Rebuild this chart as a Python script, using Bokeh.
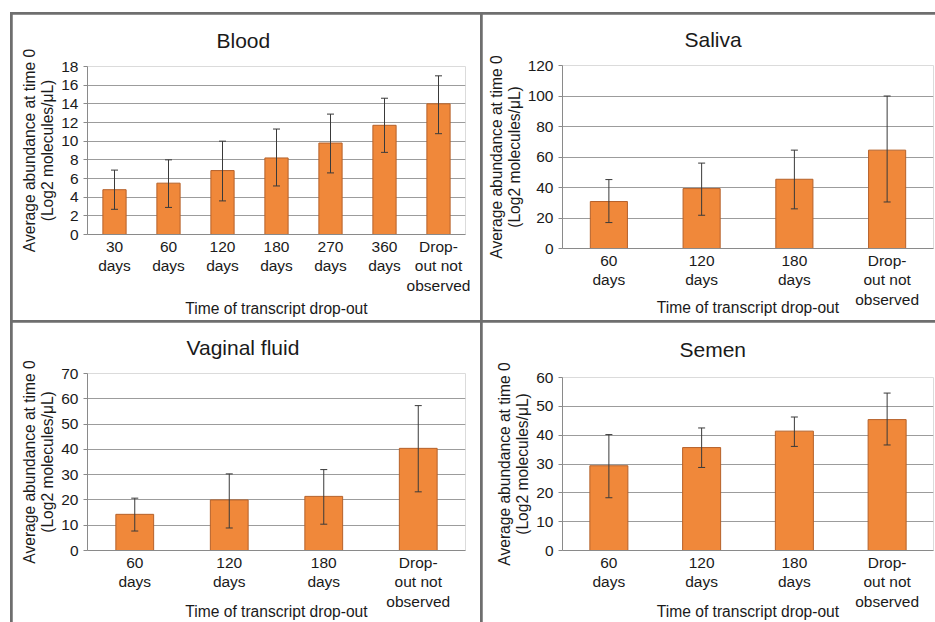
from bokeh.plotting import figure
from bokeh.models import ColumnDataSource, Whisker, TeeHead, FactorRange, Range1d, FixedTicker
from bokeh.layouts import row, column
from bokeh.embed import file_html
from bokeh.resources import INLINE

# ---------------- data ----------------
blood_cats = ["30\ndays", "60\ndays", "120\ndays", "180\ndays", "270\ndays", "360\ndays", "Drop-\nout not\nobserved"]
blood_mean = [4.8, 5.5, 6.85, 8.2, 9.8, 11.7, 14.0]
blood_low = [2.7, 2.9, 3.6, 5.2, 6.6, 8.8, 10.8]
blood_high = [6.9, 8.0, 10.0, 11.3, 12.9, 14.6, 17.0]
blood_yticks = [0, 2, 4, 6, 8, 10, 12, 14, 16, 18]

four_cats = ["60\ndays", "120\ndays", "180\ndays", "Drop-\nout not\nobserved"]

saliva_mean = [30.8, 39.3, 45.4, 64.5]
saliva_low = [17.0, 21.8, 26.0, 30.5]
saliva_high = [45.2, 56.0, 64.5, 100.0]
saliva_yticks = [0, 20, 40, 60, 80, 100, 120]

vaginal_mean = [14.3, 20.0, 21.4, 40.4]
vaginal_low = [7.7, 8.9, 10.4, 23.2]
vaginal_high = [20.7, 30.3, 32.0, 57.3]
vaginal_yticks = [0, 10, 20, 30, 40, 50, 60, 70]

semen_mean = [29.4, 35.7, 41.4, 45.4]
semen_low = [18.3, 28.8, 36.1, 36.6]
semen_high = [40.2, 42.5, 46.3, 54.6]
semen_yticks = [0, 10, 20, 30, 40, 50, 60]

titles = ["Blood", "Saliva", "Vaginal fluid", "Semen"]
y_label = "Average abundance at time 0\n(Log2 molecules/\u03bcL)"
x_label = "Time of transcript drop-out"

# ---------------- style ----------------
FONT = "Liberation Sans"
ORANGE = "#F0883A"
EDGE = "#B5612A"
ERR = "#3a3a3a"
GRID = "#9c9c9c"
AXIS = "#8a8a8a"
TEXT = "#1a1a1a"


def panel(title, cats, mean, low, high, yticks, w, h, bl, br, bt, bb,
          bar_w, title_off, title_standoff, xlab_standoff):
    src = ColumnDataSource(dict(x=cats, top=mean, lower=low, upper=high))
    p = figure(x_range=FactorRange(*cats), y_range=Range1d(yticks[0], yticks[-1]),
               width=w, height=h, min_border_left=bl, min_border_right=br,
               min_border_top=bt, min_border_bottom=bb,
               output_backend="svg", toolbar_location=None)
    p.vbar(x="x", top="top", width=bar_w, source=src, fill_color=ORANGE,
           line_color=EDGE, line_width=1)
    wh = Whisker(base="x", upper="upper", lower="lower", source=src,
                 line_color=ERR, line_width=1,
                 upper_head=TeeHead(size=7, line_color=ERR, line_width=1),
                 lower_head=TeeHead(size=7, line_color=ERR, line_width=1))
    wh.level = "overlay"
    p.add_layout(wh)

    p.title.text = title
    p.title.align = "left"
    p.title.vertical_align = "top"
    p.title.offset = title_off
    p.title.standoff = title_standoff
    p.title.text_font = FONT
    p.title.text_font_size = "21px"
    p.title.text_font_style = "normal"
    p.title.text_color = TEXT

    p.outline_line_color = None
    p.background_fill_color = "white"
    p.border_fill_color = "white"
    p.xgrid.grid_line_color = None
    p.ygrid.grid_line_color = GRID
    p.ygrid.grid_line_width = 1

    p.yaxis.ticker = FixedTicker(ticks=yticks)
    p.yaxis.minor_tick_line_color = None
    p.yaxis.major_tick_in = 0
    p.yaxis.major_tick_out = 4
    p.yaxis.major_tick_line_color = AXIS
    p.yaxis.axis_line_color = AXIS
    p.yaxis.major_label_text_font = FONT
    p.yaxis.major_label_text_font_size = "15.5px"
    p.yaxis.major_label_text_color = TEXT
    p.yaxis.axis_label = y_label
    p.yaxis.axis_label_text_font = FONT
    p.yaxis.axis_label_text_font_size = "15.6px"
    p.yaxis.axis_label_text_font_style = "normal"
    p.yaxis.axis_label_text_color = TEXT
    p.yaxis.axis_label_text_line_height = 1.05
    p.yaxis.axis_label_standoff = 2

    p.xaxis.major_tick_line_color = None
    p.xaxis.axis_line_color = AXIS
    p.xaxis.major_label_text_font = FONT
    p.xaxis.major_label_text_font_size = "15.5px"
    p.xaxis.major_label_text_color = TEXT
    p.xaxis.major_label_text_line_height = 1.15
    p.xaxis.major_label_standoff = -3
    p.xaxis.major_label_orientation = "horizontal"
    p.xaxis.axis_label = x_label
    p.xaxis.axis_label_text_font = FONT
    p.xaxis.axis_label_text_font_size = "15.6px"
    p.xaxis.axis_label_text_font_style = "normal"
    p.xaxis.axis_label_text_color = TEXT
    p.xaxis.axis_label_standoff = xlab_standoff
    return p


p1 = panel(titles[0], blood_cats, blood_mean, blood_low, blood_high, blood_yticks,
           468, 306, 75, 15, 52, 86, 0.43, 129, 26, 3)
p2 = panel(titles[1], four_cats, saliva_mean, saliva_low, saliva_high, saliva_yticks,
           453, 306, 80, 2, 51, 72, 0.40, 122, 25, -12)
p3 = panel(titles[2], four_cats, vaginal_mean, vaginal_low, vaginal_high, vaginal_yticks,
           468, 300, 75, 15, 51, 71, 0.40, 99, 25, -10)
p4 = panel(titles[3], four_cats, semen_mean, semen_low, semen_high, semen_yticks,
           453, 300, 80, 2, 55, 71, 0.41, 117, 29, -10)

col_left = column(p1, p3, spacing=2, margin=(2, 0, 0, 2))
col_right = column(p2, p4, spacing=2, margin=(2, 0, 0, 0))
layout = row(col_left, col_right, spacing=2, margin=(12, 0, 0, 10),
             styles={"background-color": "#6e6e6e"})

open("out.html", "w").write(file_html(layout, INLINE))
